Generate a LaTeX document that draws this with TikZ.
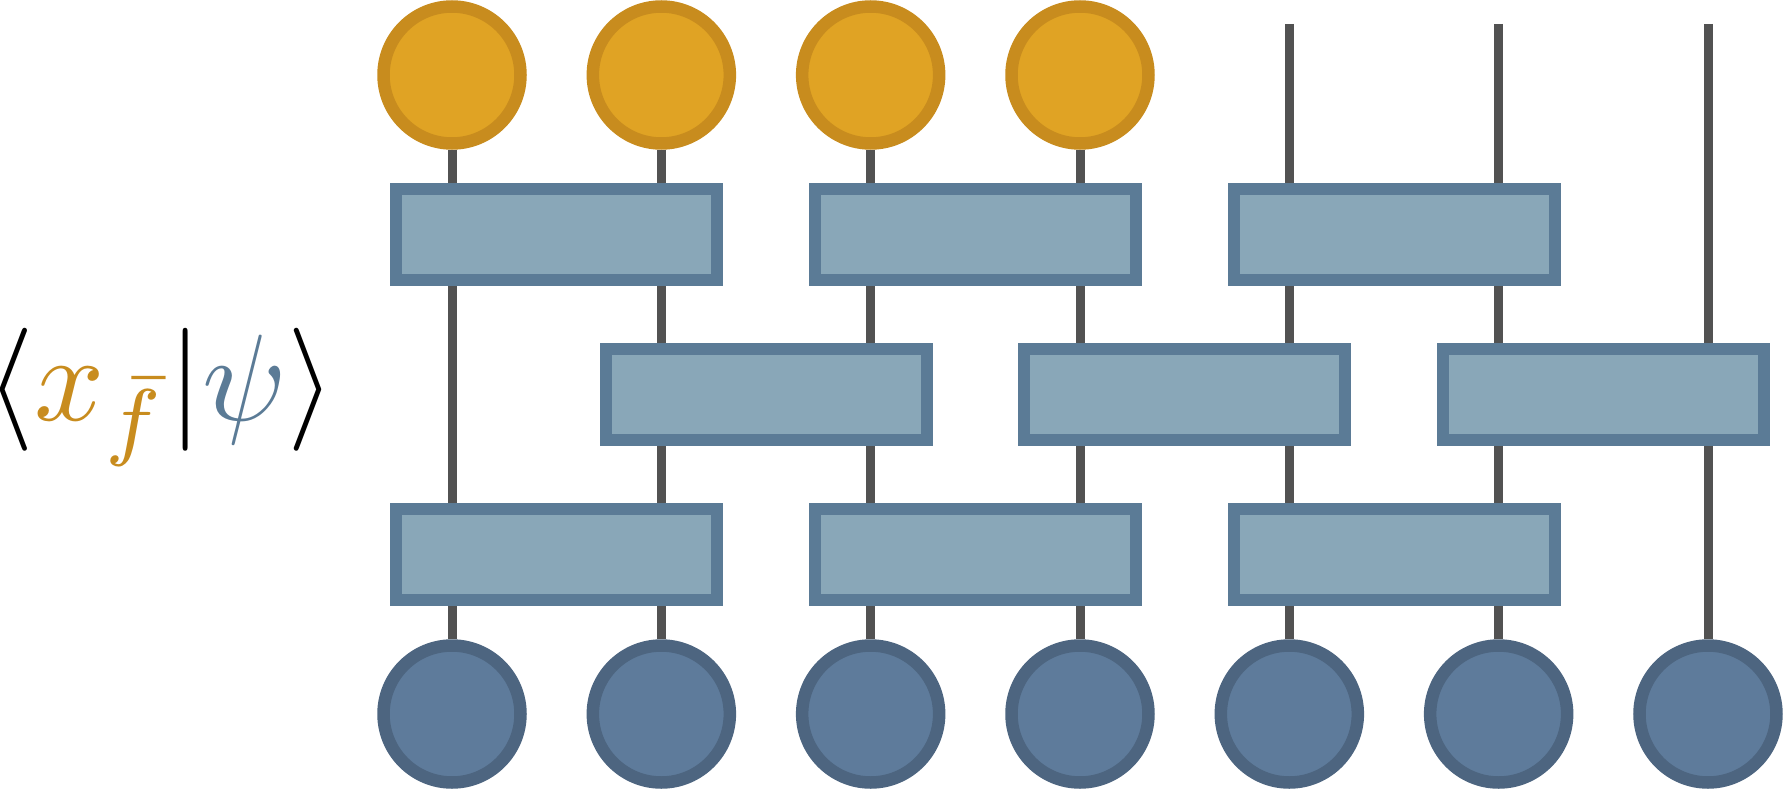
\documentclass[tikz,border=0pt]{standalone}
\usetikzlibrary{backgrounds}
\definecolor{sitefill}{HTML}{E0A324}
\definecolor{siteline}{HTML}{C88C1E}
\definecolor{gatefill}{HTML}{89A7B8}
\definecolor{gateline}{HTML}{5B7B96}
\definecolor{physfill}{HTML}{5E7B9B}
\definecolor{physline}{HTML}{4D6580}
\definecolor{legline}{HTML}{525252}
\begin{document}
\begin{tikzpicture}
  [x=1pt,y=-1pt,
   proj/.style={circle,draw=siteline,fill=sitefill,line width=12.5pt,minimum size=137pt,inner sep=0pt},
   phys/.style={circle,draw=physline,fill=physfill,line width=12.5pt,minimum size=137pt,inner sep=0pt},
   gate/.style={rectangle,draw=gateline,fill=gatefill,line width=12pt,minimum width=321pt,minimum height=91pt,inner sep=0pt},
   leg/.style={draw=legline,line width=9pt}]
  \useasboundingbox (0,0) rectangle (1783,789);

  \foreach \i in {1,...,7}
    \node[phys] (b\i) at ({452+209.33*(\i-1)},714) {};
  \foreach \i in {1,...,4}
    \node[proj] (t\i) at ({452+209.33*(\i-1)},75) {};
  \foreach \i in {5,6,7}
    \coordinate (t\i) at ({452+209.33*(\i-1)},24);

  \node[gate] (ga1) at (556.7,234.5) {};
  \node[gate] (ga2) at (975.3,234.5) {};
  \node[gate] (ga3) at (1394,234.5) {};
  \node[gate] (gb1) at (766,394.5) {};
  \node[gate] (gb2) at (1184.7,394.5) {};
  \node[gate] (gb3) at (1603.3,394.5) {};
  \node[gate] (gc1) at (556.7,554.5) {};
  \node[gate] (gc2) at (975.3,554.5) {};
  \node[gate] (gc3) at (1394,554.5) {};

  \node[scale=12.3,inner sep=0pt,anchor=base west] (amp) at (-16,420)
    {$\langle {\color{siteline}x}_{\color{siteline}\bar f}|{\color{gateline}\psi}\rangle$};

\begin{scope}[on background layer]
\foreach \i in {1,...,7}
  \path [leg] (t\i) -- (b\i);
\end{scope}
\end{tikzpicture}
\end{document}
